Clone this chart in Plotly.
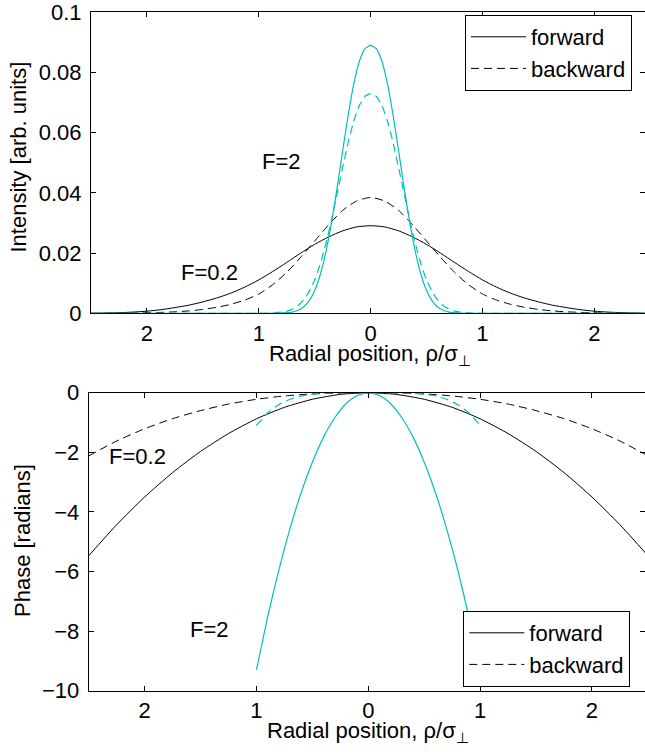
import plotly.graph_objects as go

# ---------------- data ----------------
# Top panel: intensity vs radial position (F=0.2 black, F=2 cyan)
x_int_wide = [-2.5, -2.375, -2.25, -2.125, -2.0, -1.875, -1.75, -1.625, -1.5, -1.375, -1.25, -1.125,
              -1.0, -0.875, -0.75, -0.625, -0.5, -0.375, -0.25, -0.125, 0.0,
              0.125, 0.25, 0.375, 0.5, 0.625, 0.75, 0.875, 1.0, 1.125, 1.25, 1.375, 1.5,
              1.625, 1.75, 1.875, 2.0, 2.125, 2.25, 2.375, 2.5]
int_f02_forward = [0.0000, 0.0001, 0.0002, 0.0004, 0.0007, 0.0012, 0.0019, 0.0027, 0.0038, 0.0051, 0.0067, 0.0087,
                   0.0111, 0.0139, 0.0169, 0.0200, 0.0229, 0.0254, 0.0274, 0.0287, 0.0291,
                   0.0287, 0.0274, 0.0254, 0.0229, 0.0200, 0.0169, 0.0139, 0.0111, 0.0087, 0.0067, 0.0051, 0.0038,
                   0.0027, 0.0019, 0.0012, 0.0007, 0.0004, 0.0002, 0.0001, 0.0000]
int_f02_backward = [0.0000, 0.0000, 0.0001, 0.0001, 0.0002, 0.0003, 0.0005, 0.0008, 0.0013, 0.0020, 0.0030, 0.0044,
                    0.0064, 0.0095, 0.0136, 0.0186, 0.0240, 0.0294, 0.0342, 0.0373, 0.0385,
                    0.0373, 0.0342, 0.0294, 0.0240, 0.0186, 0.0136, 0.0095, 0.0064, 0.0044, 0.0030, 0.0020, 0.0013,
                    0.0008, 0.0005, 0.0003, 0.0002, 0.0001, 0.0001, 0.0000, 0.0000]

x_int_narrow = [-2.5, -1.0, -0.95, -0.9, -0.85, -0.8, -0.75, -0.7, -0.65, -0.6, -0.55, -0.5, -0.45, -0.4,
                -0.35, -0.3, -0.25, -0.2, -0.15, -0.1, -0.05, 0.0, 0.05, 0.1, 0.15, 0.2, 0.25, 0.3,
                0.35, 0.4, 0.45, 0.5, 0.55, 0.6, 0.65, 0.7, 0.75, 0.8, 0.85, 0.9, 0.95, 1.0, 2.5]
int_f2_forward = [0.0, 0.0, 0.0, 0.0, 0.0, 0.0001, 0.0002, 0.0004, 0.0010, 0.0021, 0.0041, 0.0076, 0.0129, 0.0204,
                  0.0301, 0.0416, 0.0540, 0.0660, 0.0763, 0.0838, 0.0879, 0.0890, 0.0879, 0.0838, 0.0763, 0.0660, 0.0540, 0.0416,
                  0.0301, 0.0204, 0.0129, 0.0076, 0.0041, 0.0021, 0.0010, 0.0004, 0.0002, 0.0001, 0.0, 0.0, 0.0, 0.0, 0.0]
int_f2_backward = [0.0, 0.0, 0.0, 0.0001, 0.0002, 0.0004, 0.0007, 0.0014, 0.0025, 0.0044, 0.0072, 0.0111, 0.0164, 0.0231,
                   0.0309, 0.0396, 0.0484, 0.0568, 0.0639, 0.0691, 0.0721, 0.0730, 0.0721, 0.0691, 0.0639, 0.0568, 0.0484, 0.0396,
                   0.0309, 0.0231, 0.0164, 0.0111, 0.0072, 0.0044, 0.0025, 0.0014, 0.0007, 0.0004, 0.0002, 0.0001, 0.0, 0.0, 0.0]

# Bottom panel: phase vs radial position
x_ph_wide = [-2.5, -2.25, -2.0, -1.75, -1.5, -1.25, -1.0, -0.75, -0.5, -0.25, 0.0,
             0.25, 0.5, 0.75, 1.0, 1.25, 1.5, 1.75, 2.0, 2.25, 2.5]
ph_f02_forward = [-5.47, -4.43, -3.50, -2.68, -1.97, -1.37, -0.875, -0.49, -0.22, -0.055, 0.0,
                  -0.055, -0.22, -0.49, -0.875, -1.37, -1.97, -2.68, -3.50, -4.43, -5.47]
ph_f02_backward = [-2.12, -1.62, -1.21, -0.87, -0.60, -0.38, -0.22, -0.108, -0.040, -0.007, 0.0,
                   -0.007, -0.040, -0.108, -0.22, -0.38, -0.60, -0.87, -1.21, -1.62, -2.12]

x_ph_narrow = [-1.0, -0.9, -0.8, -0.7, -0.6, -0.5, -0.4, -0.3, -0.2, -0.1, 0.0,
               0.1, 0.2, 0.3, 0.4, 0.5, 0.6, 0.7, 0.8, 0.9, 1.0]
ph_f2_forward = [-9.30, -7.53, -5.95, -4.56, -3.35, -2.33, -1.49, -0.84, -0.37, -0.093, 0.0,
                 -0.093, -0.37, -0.84, -1.49, -2.33, -3.35, -4.56, -5.95, -7.53, -9.30]
ph_f2_backward = [-1.10, -0.68, -0.40, -0.22, -0.11, -0.049, -0.018, -0.005, -0.001, 0.0, 0.0,
                  0.0, -0.001, -0.005, -0.018, -0.049, -0.11, -0.22, -0.40, -0.68, -1.10]

x_tick_vals = [-2, -1, 0, 1, 2]
x_tick_text = ["2", "1", "0", "1", "2"]
y1_tick_vals = [0, 0.02, 0.04, 0.06, 0.08, 0.1]
y1_tick_text = ["0", "0.02", "0.04", "0.06", "0.08", "0.1"]
y2_tick_vals = [-10, -8, -6, -4, -2, 0]
y2_tick_text = ["\u221210", "\u22128", "\u22126", "\u22124", "\u22122", "0"]
legend_names = ["forward", "backward"]

# ---------------- style ----------------
W, H = 645, 756
FONT = "Liberation Sans, Arial, Helvetica, sans-serif"
FS = 22
BLACK = "#000000"
CYAN = "#00BFBF"
DASH = "8px,5px"


def px_x(p):
    return p / W


def px_y(p):
    return (H - p) / H


fig = go.Figure()

# top panel traces
fig.add_trace(go.Scatter(x=x_int_wide, y=int_f02_forward, mode="lines", xaxis="x", yaxis="y",
                         line=dict(color=BLACK, width=1, shape="spline", smoothing=0.6), showlegend=False))
fig.add_trace(go.Scatter(x=x_int_wide, y=int_f02_backward, mode="lines", xaxis="x", yaxis="y",
                         line=dict(color=BLACK, width=1, dash=DASH, shape="spline", smoothing=0.6), showlegend=False))
fig.add_trace(go.Scatter(x=x_int_narrow, y=int_f2_forward, mode="lines", xaxis="x", yaxis="y",
                         line=dict(color=CYAN, width=1.2, shape="spline", smoothing=0.5), showlegend=False))
fig.add_trace(go.Scatter(x=x_int_narrow, y=int_f2_backward, mode="lines", xaxis="x", yaxis="y",
                         line=dict(color=CYAN, width=1.2, dash=DASH, shape="spline", smoothing=0.5), showlegend=False))

# bottom panel traces
fig.add_trace(go.Scatter(x=x_ph_wide, y=ph_f02_forward, mode="lines", xaxis="x2", yaxis="y2",
                         line=dict(color=BLACK, width=1, shape="spline", smoothing=0.6), showlegend=False))
fig.add_trace(go.Scatter(x=x_ph_wide, y=ph_f02_backward, mode="lines", xaxis="x2", yaxis="y2",
                         line=dict(color=BLACK, width=1, dash=DASH, shape="spline", smoothing=0.6), showlegend=False))
fig.add_trace(go.Scatter(x=x_ph_narrow, y=ph_f2_forward, mode="lines", xaxis="x2", yaxis="y2",
                         line=dict(color=CYAN, width=1.2, shape="spline", smoothing=0.6), showlegend=False))
fig.add_trace(go.Scatter(x=x_ph_narrow, y=ph_f2_backward, mode="lines", xaxis="x2", yaxis="y2",
                         line=dict(color=CYAN, width=1.2, dash=DASH, shape="spline", smoothing=0.6), showlegend=False))

# legend entries (black samples)
for leg, xa, ya in (("legend", "x", "y"), ("legend2", "x2", "y2")):
    fig.add_trace(go.Scatter(x=[None], y=[None], mode="lines", name=legend_names[0], xaxis=xa, yaxis=ya,
                             line=dict(color=BLACK, width=1), legend=leg, showlegend=True))
    fig.add_trace(go.Scatter(x=[None], y=[None], mode="lines", name=legend_names[1], xaxis=xa, yaxis=ya,
                             line=dict(color=BLACK, width=1, dash=DASH), legend=leg, showlegend=True))

axis_common = dict(showgrid=False, zeroline=False, showline=True, linecolor=BLACK, linewidth=1,
                   mirror="ticks", ticks="inside", ticklen=5, tickwidth=1, tickcolor=BLACK,
                   tickfont=dict(family=FONT, size=FS, color=BLACK), automargin=False)

fig.update_layout(
    width=W, height=H,
    margin=dict(l=0, r=0, t=0, b=0),
    paper_bgcolor="white", plot_bgcolor="white",
    font=dict(family=FONT, size=FS, color=BLACK),
    xaxis=dict(domain=[px_x(91), 1.0], range=[-2.5, 2.453], anchor="y",
               tickvals=x_tick_vals, ticktext=x_tick_text, ticklabelstandoff=0, **axis_common),
    yaxis=dict(domain=[px_y(313.3), px_y(12)], range=[0, 0.1001], anchor="x",
               tickvals=y1_tick_vals, ticktext=y1_tick_text, ticklabelstandoff=4, **axis_common),
    xaxis2=dict(domain=[px_x(88.7), 1.0], range=[-2.5, 2.474], anchor="y2",
                tickvals=x_tick_vals, ticktext=x_tick_text, ticklabelstandoff=0, **axis_common),
    yaxis2=dict(domain=[px_y(690.7), px_y(392.7)], range=[-10, 0.001], anchor="x2",
                tickvals=y2_tick_vals, ticktext=y2_tick_text, ticklabelstandoff=4, **axis_common),
    legend=dict(x=px_x(465), y=px_y(15), xanchor="left", yanchor="top",
                bgcolor="white", bordercolor=BLACK, borderwidth=1,
                font=dict(family=FONT, size=FS, color=BLACK), itemwidth=55, traceorder="normal"),
    legend2=dict(x=px_x(463.3), y=px_y(611), xanchor="left", yanchor="top",
                 bgcolor="white", bordercolor=BLACK, borderwidth=1,
                 font=dict(family=FONT, size=FS, color=BLACK), itemwidth=55, traceorder="normal"),
    showlegend=True,
)

ann_font = dict(family=FONT, size=FS, color=BLACK)
annotations = [
    # axis titles
    dict(text="Radial position, \u03c1/\u03c3<sub>\u22a5</sub>", x=px_x(370), y=px_y(355)),
    dict(text="Radial position, \u03c1/\u03c3<sub>\u22a5</sub>", x=px_x(368.3), y=px_y(732)),
    dict(text="Intensity [arb. units]", x=px_x(18), y=px_y(157.5), textangle=-90),
    dict(text="Phase [radians]", x=px_x(22), y=px_y(541), textangle=-90),
    # curve labels
    dict(text="F=2", x=px_x(281.7), y=px_y(161.7)),
    dict(text="F=0.2", x=px_x(209), y=px_y(272)),
    dict(text="F=0.2", x=px_x(137.5), y=px_y(456.7)),
    dict(text="F=2", x=px_x(209.7), y=px_y(629.2)),
]
for a in annotations:
    a.update(xref="paper", yref="paper", showarrow=False, xanchor="center", yanchor="middle", font=ann_font)
fig.update_layout(annotations=annotations)

fig.write_html("out.html")
